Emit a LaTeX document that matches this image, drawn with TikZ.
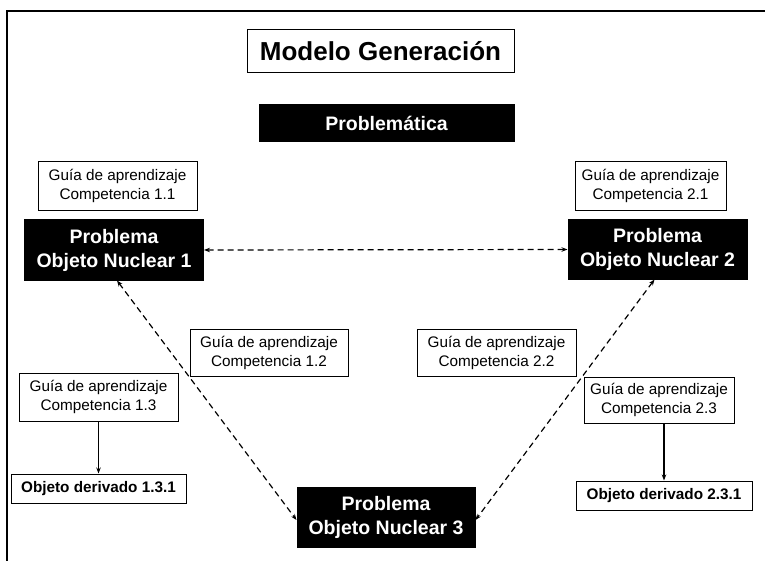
\documentclass[tikz,border=0pt]{standalone}
\usepackage{fontspec}
\setmainfont{Liberation Sans}
\usetikzlibrary{arrows.meta}

\begin{document}
\begin{tikzpicture}[x=1pt,y=-1pt,
        caja/.style = {draw, line width=1pt, inner sep=0pt, align=center},
        guia/.style = {caja, font=\fontsize{15.3}{19}\selectfont},
        nucleo/.style = {caja, fill=black, text=white, font=\fontsize{19.5}{24}\selectfont\bfseries},
        derivado/.style = {caja, minimum height=29pt, font=\fontsize{15.3}{19}\selectfont\bfseries},
        enlace/.style = {dashed, dash pattern=on 6pt off 4pt, line width=1.2pt, {Stealth[length=6pt]}-{Stealth[length=6pt]}},
        baja/.style = {line width=1.2pt, -{Stealth[length=6pt]}}]
        \useasboundingbox (0,0) rectangle (765,561);
        % marco
        \draw[line width=1.5pt] (7,561) -- (7,11) -- (765,11);

        \node[caja, minimum width=267pt, minimum height=43pt, font=\fontsize{26}{30}\selectfont\bfseries] (titulo) at (380.5,51.5) {Modelo Generación};
        \node[nucleo, minimum width=255pt, minimum height=37pt] (problematica) at (386.5,123.5) {Problemática};

        \node[guia, minimum width=159pt, minimum height=49pt] (g11) at (117.5,186) {Guía de aprendizaje\\Competencia 1.1};
        \node[guia, minimum width=151pt, minimum height=49pt] (g21) at (650.5,186) {Guía de aprendizaje\\Competencia 2.1};
        \node[nucleo, minimum width=179pt, minimum height=60pt] (on1) at (114,250) {Problema\\Objeto Nuclear 1};
        \node[nucleo, minimum width=179pt, minimum height=59pt] (on2) at (657.5,249.5) {Problema\\Objeto Nuclear 2};

        \node[guia, minimum width=158pt, minimum height=47pt] (g12) at (269,352.5) {Guía de aprendizaje\\Competencia 1.2};
        \node[guia, minimum width=159pt, minimum height=47pt] (g22) at (496.5,352.5) {Guía de aprendizaje\\Competencia 2.2};
        \node[guia, minimum width=159pt, minimum height=48pt] (g13) at (98.5,397) {Guía de aprendizaje\\Competencia 1.3};
        \node[guia, minimum width=150pt, minimum height=46pt] (g23) at (659,400) {Guía de aprendizaje\\Competencia 2.3};

        \node[derivado, minimum width=175pt] (d131) at (98.5,488.5) {Objeto derivado 1.3.1};
        \node[derivado, minimum width=176pt] (d231) at (664,495.5) {Objeto derivado 2.3.1};
        \node[nucleo, minimum width=178pt, minimum height=60pt] (on3) at (386,517) {Problema\\Objeto Nuclear 3};

        \draw[enlace] (on1.east) -- (on2.west);
        \draw[enlace] ([xshift=3pt]on1.south) -- ([yshift=-3pt]on3.west);
        \draw[enlace] ([xshift=-3pt]on2.south) -- ([yshift=-3pt]on3.east);
        \draw[baja] (g13.south) -- (d131.north);
        \draw[baja] (g23.south -| d231.north) -- (d231.north);
\end{tikzpicture}
\end{document}
